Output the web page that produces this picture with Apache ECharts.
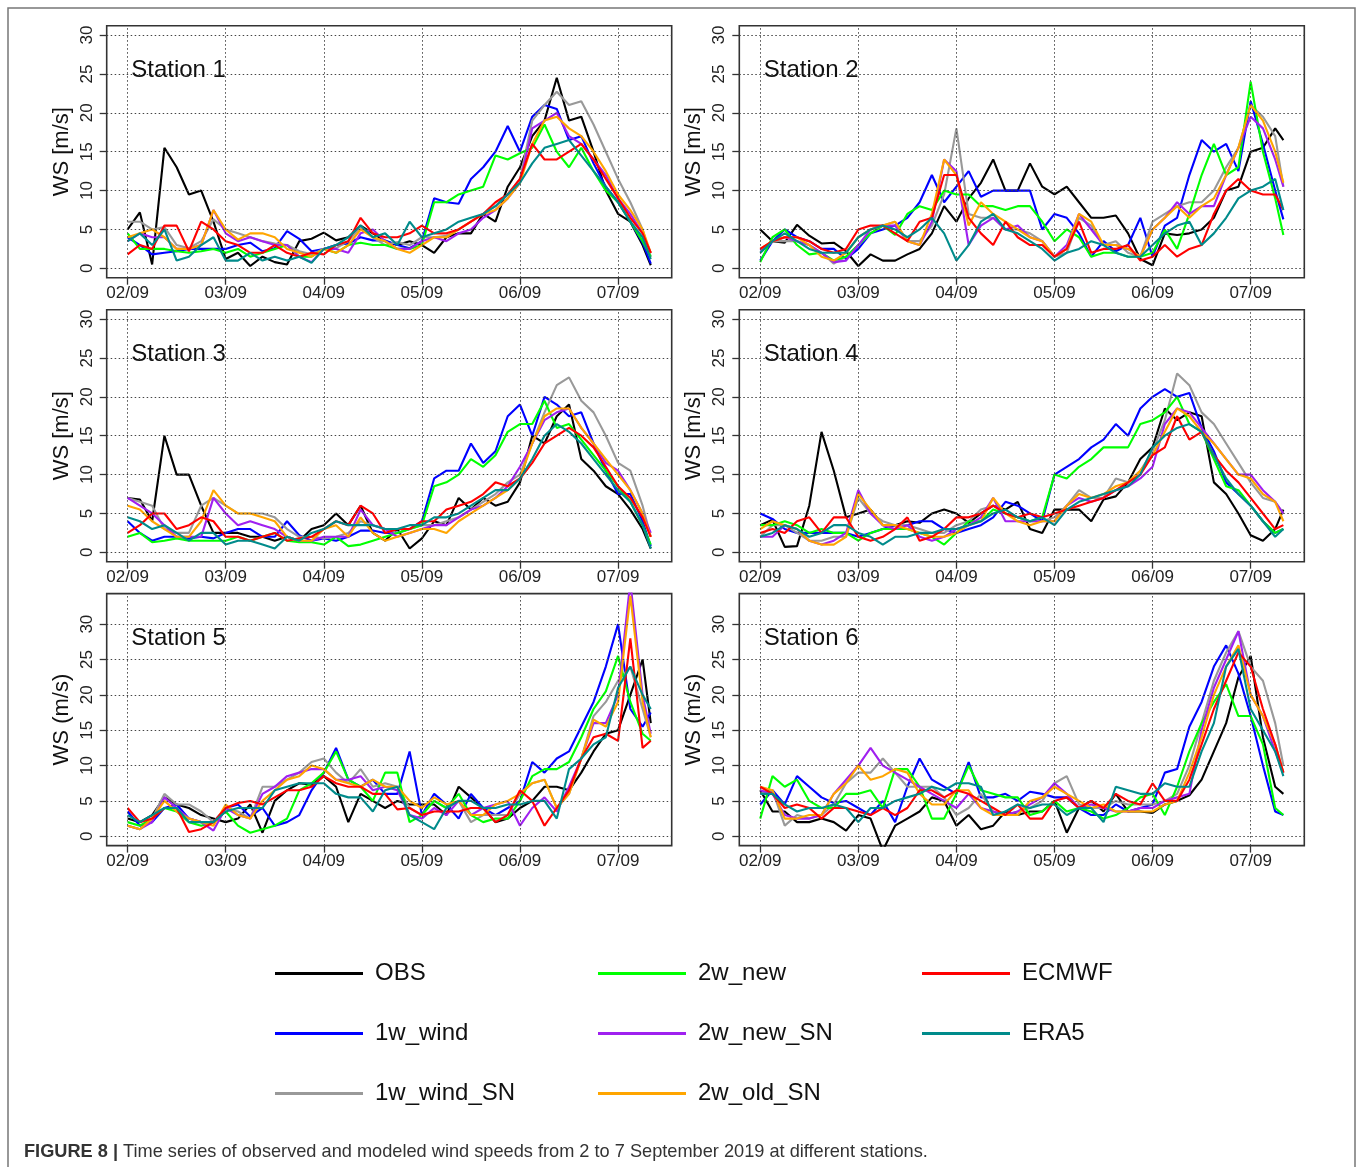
<!DOCTYPE html>
<html><head><meta charset="utf-8">
<script src="https://cdn.jsdelivr.net/npm/echarts@6/dist/echarts.min.js"></script>
<style>html,body{margin:0;padding:0;background:#fff;}#c{width:1358px;height:1167px;}</style>
</head><body><div id="c"></div>
<script>
// ---------- time axis (hours after 02/09 00:00) ----------
const hours = [0,3,6,9,12,15,18,21,24,27,30,33,36,39,42,45,48,51,54,57,60,63,66,69,72,75,78,81,84,87,90,93,96,99,102,105,108,111,114,117,120,123,126,128];
const xTickDays = [0,1,2,3,4,5];
const xTickLabels = ['02/09','03/09','04/09','05/09','06/09','07/09'];
const yTicks = [0,5,10,15,20,25,30];
const stationNames = ['Station 1','Station 2','Station 3','Station 4','Station 5','Station 6'];
const yTitles = ['WS [m/s]','WS [m/s]','WS [m/s]','WS [m/s]','WS (m/s)','WS (m/s)'];
const seriesNames = ['OBS','1w_wind','1w_wind_SN','2w_new','2w_new_SN','2w_old_SN','ECMWF','ERA5'];

// ---------- Station 1 ----------
const OBS_1   = [5,7.2,0.5,15.5,13,9.5,10,6,1.2,2,0.3,1.5,0.8,0.5,3.5,3.8,4.6,3.6,4,5.5,4.5,3.5,3,3.5,3,2,4,4.5,4.5,7,6,10.5,13,17,19,24.5,19,19.5,15,10,7,6,3,0.4];
const W1_1    = [4,3,1.8,2,2.2,2.5,2.5,2.5,2.5,3,3.3,2.2,2.6,4.8,3.8,2.2,2.5,3,3.2,4,3.6,3.6,3,2.6,3.5,9,8.5,8.3,11.5,13,15,18.3,15,19.5,21,20.5,16.5,17,13.5,10.5,8.5,6,3.3,0.6];
const W1SN_1  = [6,6,5,5.3,3,2.6,3.5,6.3,5,4.5,4,3.5,3.2,3,2.2,1.8,2.5,2.6,3.5,5.3,4,3,3.4,3,4,4,4.2,5,6,7,8,9.5,11.5,19,21,22.7,21,21.5,18.5,15,11.5,8.5,5,1.5];
const W2N_1   = [4.5,2.5,2.5,2.5,2.2,2,2.2,2.5,2,2.5,1.5,2,2.5,3,1.5,1.5,2.5,2,3,3.3,3,3,2.5,2.5,3,8.5,8.5,9.5,10,10.5,14.5,14,14.8,15.5,18.5,15,13,15.5,12.5,10,8.5,6,3.5,1.5];
const W2NSN_1 = [3.5,4.5,4,4,2.5,2.5,3,7.5,4.5,3.5,4,3.5,3,3,1.5,0.8,2.5,2.5,2,4.5,5,3.5,2.5,2.5,3.5,4,3.5,4.5,5,6.5,7.5,9,11,18,19,20,17,16,14,12,9,7,4.5,2];
const W2OSN_1 = [4,4.5,5,4,2.5,2.5,3,7.5,5,3.7,4.5,4.5,4,2.5,2,1.5,2.5,2,3,5,4,3.5,2.5,2,3,4,4,5,6,7,7.5,9,11,16,19,19.5,18,17,15,12.5,9.5,7.5,5,2];
const ECMWF_1 = [1.8,3,2.5,5.5,5.5,2.2,6,5,3.5,3,2,2,3,2,1.5,2,1.8,3,3.5,6.5,4.5,4,4,4.5,5.5,4.5,4.5,5,6,7,8.5,9.5,11.5,16,14,14,15,16,14,11.5,9,6.5,4.5,2];
const ERA5_1  = [3.5,4.5,3,5,1,1.5,3,4,1,1,2,1,1.5,1,1.5,0.7,2.5,3,4,5.5,4,4.5,3,6,4,4.5,5,6,6.5,7,8,9.5,11,13.5,15.5,16,16.5,14.5,12.5,10.5,8.5,6,4,1.2];

// ---------- Station 2 ----------
const OBS_2   = [5,3.5,3.3,5.6,4.2,3.2,3.3,2.2,0.3,1.8,1,1,1.8,2.5,4.5,8,6,9,11,14,10,10,13.5,10.5,9.5,10.5,8.5,6.5,6.5,6.8,4.5,1.2,0.4,4.5,4.3,4.5,5,6.5,10,10.5,15,15.5,18,16.5];
const W1_2    = [1,3.5,5,4,3.5,2.5,2.5,1.2,2.5,4.5,5,5.5,6.5,8.5,12,8.5,10.5,12.5,9.2,10,10,10,10,5,7,6.5,4.5,1.5,3.5,2.2,3,6.5,1.5,5.5,6.5,12,16.5,15,16,12.5,21.5,16,10,6.3];
const W1SN_2  = [2,3.5,3.5,3.5,3,2,0.6,1.5,3,4.5,5.5,6,3.5,3.5,5.5,9.5,18,7,6.5,6.5,5,5,4.5,3.5,1.5,2,6.5,5.5,3,3.5,2,1.5,6,7,8,8.5,8.5,10,13,15.5,21,19.5,17,10.5];
const W2N_2   = [0.8,4,5,3,1.8,2,1,1.5,3,4.5,5.5,4.3,7,8,7.5,10,9.5,9.5,8,8,7.5,8,8,6,3.5,5,4,1.5,2,2,1.5,1.5,2,5,2.5,7,12,16,12,13,24,15,9,4.3];
const W2NSN_2 = [2.3,3.5,4,3.5,3,2,0.8,1,3,5,5.5,5.5,3.5,3,6,14,12.5,3,5.5,6.5,5,5.5,4,3.5,1.5,3,7,5,3,3,2.5,1.5,5,6.5,8.5,7,8,8,12,15.5,19.5,18,14,10.5];
const W2OSN_2 = [2.5,3.5,4,4,3,1.5,1,2,4,5,5.5,6,3.5,3,7,14,12,5.5,8.5,7,6,5,4,3.5,1.5,2.5,7,6,3,3,2.5,1.5,5,6.5,8,6.5,8,9,12,15.5,21,19,15,11];
const ECMWF_2 = [2.5,3.5,4,4,3.5,2.5,2,2.5,5,5.5,5.5,4.5,3.5,6,6.5,12,12,6.5,4.5,3,6,4,3,3,1.5,2.5,6,2,2.5,2.5,3,1,1.5,3,1.5,2.5,3,7,10,11.5,10,9.5,9.5,7.5];
const ERA5_2  = [2,3.5,4.5,3.5,2.5,2,2,2,4,5,5.5,5,4,5,6.5,4.5,1,3,6,7,5,4.5,3.5,2.5,1,2,2.5,3.5,3,2,1.5,1.5,3,4.5,5.5,6,3,4.5,6.5,9,10,10.5,11.5,7.5];

// ---------- Station 3 ----------
const OBS_3   = [7,6.8,4,15,10,10,6,2.5,2.5,2.5,2,2,1.5,2,1.5,3,3.5,5,3.5,6,2.5,1.5,3,0.5,1.8,4,3.5,7,5.5,7,6,6.5,9,15,14,17.5,19,12,10.5,8.5,7.5,5.5,3,0.5];
const W1_3    = [4,2.5,1.5,2,2,1.8,2,1.8,2.5,3,3,2,2,4,2.2,1.5,1.8,1.5,2,2.8,2.8,2.5,2.5,3,4,9.5,10.5,10.5,14,11.5,13,17.5,19,15,20,19,17.5,18,14,10.5,7.5,7.5,4,0.8];
const W1SN_3  = [7,6.5,6,3,2.5,2.5,6,7,6,5,5,5,4.5,3,2,2,1.8,2,2.5,4,3.5,3,2.5,3,3.5,3.5,4,4.5,5.5,6.5,7.5,9,10,14,18,21.5,22.5,19.5,18,15,11.5,10.5,6,2];
const W2N_3   = [2,2.5,1.3,1.5,1.8,1.5,1.5,1.5,1.5,2,1.5,2,2.5,1.5,1.3,1.3,1,2,0.8,1,1.5,2,2.5,3,3.5,8.5,9,10,12,11,12.5,15.5,16.5,16.5,19.5,16,16.5,14.5,12.5,10.5,8.5,6.5,3.5,1];
const W2NSN_3 = [7,6,5,3.5,2,2,2,7,5,3.5,4,3.5,3,2,1.5,1.5,2,2,2,5.5,3.5,3,2,2.5,3,3.5,3.5,4.5,5.5,6,7,8.5,11,14,17,18,18.5,16,14,11.5,10.5,8,5,2.5];
const W2OSN_3 = [6,5.5,4,3,2,2,4,8,6,5,5,4.5,4,2,1.5,1.5,3,3.5,2,4.5,2.5,1.5,2,2.5,3,3,2.5,4,5,6,7,8,9.5,14,17.5,18.5,18.5,16,14,12,10,8,5,2];
const ECMWF_3 = [2.5,3.5,5,5,3,3.5,4.5,4,2,2,1.5,2,2.5,1.5,1.8,2,3,4,3.5,6,5,2.5,3,3,4,4,5.5,6,6.5,7.5,9,8.5,9.5,11.5,14,15,16,15,13.5,11,8.5,7,4.5,2];
const ERA5_3  = [4.5,4,3,3.5,2.5,1.5,2.5,2.5,1,1.5,1.5,1,0.5,2,1.5,2.5,3,4,3.5,3.5,3.5,3,3,3.5,3.5,4.5,4.5,5,6,7,8,8,9.5,12,15,16.5,15.5,14,12,10,8,6.5,3.5,0.5];

// ---------- Station 4 ----------
const OBS_4   = [3.5,4.2,0.7,0.8,6,15.5,10.5,4.5,5,5.5,3.5,3.5,4,3.8,5,5.5,5,3.8,5,6,5.5,6.5,3,2.5,5.5,5.5,5.5,4,6.8,7.2,9,12,13.5,18.5,17,18,17.5,9,7.5,5,2.2,1.5,3,5.5];
const W1_4    = [5,4.3,3,2.5,2.5,2.5,2.5,2.5,2,2.5,3,3.5,3.5,4,4,3,2.5,3,3.5,4.5,6.5,6,5,4,10,11,12,13.5,14.5,16.5,15,18.5,20,21,20,20.5,16,13,9,7.5,6,4,2.5,3];
const W1SN_4  = [2,3.5,3.5,2.5,1.5,1.5,2,2,7,5,4,3.5,3.5,3,2.5,2.5,3.5,4,5.5,6,5,4.5,4,4,4.5,6,8,7,7,9.5,9,10.5,13,17,23,21.5,18,16.5,14,11.5,9,7,6.5,5];
const W2N_4   = [3.5,3.5,4,3.5,2.5,3,2.5,2.5,1.5,2.5,3,3,3,2.5,2,1,2.5,4,4,5.5,5,4.5,4,4.5,10,9.5,11,12,13.5,13.5,13.5,16.5,17,18,20,16.5,15.5,12,8.5,8,6,4,2.5,3];
const W2NSN_4 = [2,2,3.5,3,1.5,1,1.5,2.5,8,5,3.5,3,3.5,2,1.5,2,3,3.5,4.5,7,4,4,4,4,4,6,7,6.5,7,8,8.5,9.5,11,16.5,18.5,18,16,14,12,10,10,8,6.5,5];
const W2OSN_4 = [3,4,3.5,3,1.5,1,1,2,7.5,5.5,3.5,3.5,3,2.5,2,2,2.5,3.5,4,7,5,4,3.5,4,4,6,7.5,7,7.5,8.5,9,10.5,12.5,15.5,18.5,17.5,15.5,14,12,10,9.5,7.5,6.5,4];
const ECMWF_4 = [2.5,3,2.5,4,4.5,2.5,4.5,4.5,2,1.5,2,3,4.5,1.5,2,3,4.5,4.5,5,6,5,4.5,5,4.5,5,5.5,6,6.5,7,8,9,10,12.5,13.5,17.5,14.5,15.5,12.5,10.5,9,7,5,3,3.5];
const ERA5_4  = [2,2.5,3.5,3,2,2.5,3.5,3.5,2.5,2,1,2,2,2.5,2.5,3,3,3.5,4,5,5.5,4.5,4,4.5,3.5,5.5,6.5,7,7.5,8,8.5,10,13.5,15,16,16.5,15.5,12.5,9.5,7.5,6,4,2,3];

// ---------- Station 5 ----------
const OBS_5   = [2.5,2,3,5.5,4.5,4,3,2.5,2,2.5,4.5,0.5,5,6.5,7.5,7.3,8.5,7,2,6,5,4,5,4.5,4.5,4.5,3,7,5.5,4,2,2.5,4,5,7,7,6.5,9,12,14.5,15,20,25,16];
const W1_5    = [3.5,1.5,2,4,4.5,2.5,2,2,4,4.5,2.8,4,1.5,2,3,6.5,9,12.5,8,7,8,6,6,12,3,6,4.5,2.5,6,4,3,4,5,10.5,9,11,12,15.5,19,24,30,18,15.5,17.5];
const W1SN_5  = [1.5,1,2.5,6,4.5,4.5,3.5,2,4,3.5,2.5,7,7,8,9,10.5,11,9,7.5,9.5,7,7.5,7,4,3,5,4,5,2,3,3,3,6,7.5,8,4,6,11,17,19,22,24,18,14];
const W2N_5   = [2,1.5,2.5,4,3.5,2,1.5,2,3.5,1.5,0.5,1,1.5,2.5,6.5,7.5,9,12,8,7,5,9,9,2,3,5,4,6,3,2,2.5,2.5,5,8.5,9.5,9.5,10.5,14,18,20.5,25.5,19,14.5,13.5];
const W2NSN_5 = [1.5,1,2,5.5,4,2.5,2,0.8,4,3,2.5,6,7,8.5,9,9.5,9.5,8,8,8.5,6.5,7,6.5,3,2.5,4,3,5,3,4,4.5,5,1.5,4,5.5,3.5,7,11,16,16,20,36,20,14.5];
const W2OSN_5 = [1.5,1,2.5,5,3.5,2.5,2,1.5,4.5,3,2.5,5,6.5,8,8.5,10,9.5,8,7.5,7,8,7,7,5,4,5.5,4.5,5,3,3,4.5,5,6,7.5,8,4,6,11,16.5,15.5,19,34,19,14];
const ECMWF_5 = [4,2,2.5,4,4,0.6,1,2,4,4.7,5,4.5,5.5,6.5,6.5,7,8.5,7.5,7,7,6,6,3.8,4,3,3.5,3.5,3.5,4,4,2,3,6.5,5,1.5,4,6.5,11,14,14.5,13.5,28,12.5,13.5];
const ERA5_5  = [3,2,3,4,4,2,2,2,3.5,4,4,4,6.5,7,7.5,7.5,7.5,6,5.5,5.5,3.5,6.5,7,3,2,1,4,5,5,4,4,4.5,4.5,5,5,2.5,9.5,11,13,14,21,24,20,18];

// ---------- Station 6 ----------
const OBS_6   = [6.5,3.5,3.5,2,2,2.5,2,0.8,3,2.5,-2,1.5,2.5,3.5,5.5,5,1.5,3,1,1.5,3.5,3,3.5,3.5,5,0.5,4,5,3.5,6,3.5,3.5,3.3,4.5,5,5.8,8,12,16,22.5,25.5,14,7,6];
const W1_6    = [4.5,6.5,4.5,8.5,7,5.5,4.7,5,4,3,5,2,7,11,8,7,6,10.5,5.5,5.5,6,5,6.3,6,5.5,5.5,4,3,3,4.5,3.5,4,4.5,9,9.5,15.5,19,24,27,23,17,10,3.5,3];
const W1SN_6  = [6,6.5,1.5,3,2.5,3,4.5,7.5,9,9,11,9,7,7,7,5.5,3,4,6,3.5,3,3.5,4,5,7.5,8.5,4.5,4,4,5,4.5,4.5,4.5,5,6,10,16,22,26,29,24,22,16,10];
const W2N_6   = [2.5,8.5,7,8,5,4,4,6,6,6.5,4,9.5,9.5,7,2.5,2.5,6,10,6.5,6,5.5,5.5,3,3.5,5,3.5,4,3.5,2.5,3,4,5.5,6,3,7,12,16,19,21.5,17,17,13,4,3];
const W2NSN_6 = [6.5,6,3,2.5,2.5,3,6,8,10,12.5,10,9,8,7,6,5,4,6,4,3.5,3,3.5,4.5,5.5,7.5,6,4,4.5,4,3.5,3.5,4,4,5,5.5,6,15,21,25,29,20,17,12,9];
const W2OSN_6 = [7,6.5,2.5,2.5,3,3,6,7.5,10,8,8.5,9.5,9,6,4.5,4.5,6.5,6.5,4,3,3,3,5,5.5,7,6,5,4,4.5,3.5,3.5,3.5,3.5,4.5,5,9,14,20,24,27,20,17,13,9];
const ECMWF_6 = [7,6,4,4.5,4,2.5,4,4,3.5,3,4,3,4,6.5,6.5,5.5,6.5,6,5,4,3,4.5,2.5,2.5,5,5.5,4,5,4,6,5,4.5,7.5,5,5,8,13,18,22,26,24,18,13,9];
const ERA5_6  = [6,6,4.5,3.5,4,4,4.5,4,2,4,4,5,5.5,6,7,6.5,7.5,7.5,7,3,3.5,4.5,4,4.5,4.5,3,4,4,2,7,6.5,6,6,7.5,7,7,12,16,24,26.5,18,15,12,8.5];

const stationData = [
  [OBS_1,W1_1,W1SN_1,W2N_1,W2NSN_1,W2OSN_1,ECMWF_1,ERA5_1],
  [OBS_2,W1_2,W1SN_2,W2N_2,W2NSN_2,W2OSN_2,ECMWF_2,ERA5_2],
  [OBS_3,W1_3,W1SN_3,W2N_3,W2NSN_3,W2OSN_3,ECMWF_3,ERA5_3],
  [OBS_4,W1_4,W1SN_4,W2N_4,W2NSN_4,W2OSN_4,ECMWF_4,ERA5_4],
  [OBS_5,W1_5,W1SN_5,W2N_5,W2NSN_5,W2OSN_5,ECMWF_5,ERA5_5],
  [OBS_6,W1_6,W1SN_6,W2N_6,W2NSN_6,W2OSN_6,ECMWF_6,ERA5_6]
];

// ---------- styling / layout ----------
const seriesColors = ['#000000','#0000FF','#999999','#00FF00','#A020F0','#FFA500','#FF0000','#008B8B'];
const FONT = '"Liberation Sans", Arial, sans-serif';
const gridLeft = [106.7, 739.3];
const gridTop = [25.7, 309.7, 593.6];
const GW = 565, GH = 252;
const xMin = -0.2133, xMax = 5.5467;
const yRanges = [[-1.2,31.2],[-1.2,31.2],[-1.2,31.2],[-1.2,31.2],[-1.32,34.32],[-1.32,34.32]];

const grids = [], xAxes = [], yAxes = [], series = [], graphics = [];
for (let k = 0; k < 6; k++) {
  const col = k % 2, row = Math.floor(k / 2);
  grids.push({left: gridLeft[col], top: gridTop[row], width: GW, height: GH,
    show: true, borderColor: '#333', borderWidth: 1.6, backgroundColor: 'transparent', containLabel: false});
  xAxes.push({type: 'value', gridIndex: k, min: xMin, max: xMax,
    axisLine: {show: false, onZero: false},
    axisTick: {show: true, length: 7, customValues: xTickDays, lineStyle: {color: '#333', width: 1.3}},
    axisLabel: {show: true, customValues: xTickDays, formatter: v => xTickLabels[Math.round(v)],
      fontSize: 17, color: '#222', fontFamily: FONT, margin: 7},
    splitLine: {show: false}});
  yAxes.push({type: 'value', gridIndex: k, min: yRanges[k][0], max: yRanges[k][1],
    name: yTitles[k], nameLocation: 'middle', nameRotate: 90, nameGap: 34,
    nameTextStyle: {fontSize: 22, color: '#111', fontFamily: FONT},
    axisLine: {show: false, onZero: false},
    axisTick: {show: true, length: 7, customValues: yTicks, lineStyle: {color: '#333', width: 1.3}},
    axisLabel: {show: true, customValues: yTicks, rotate: 90, fontSize: 17, color: '#222', fontFamily: FONT, margin: 11},
    splitLine: {show: false}});
  stationData[k].forEach((arr, j) => {
    const s = {type: 'line', name: seriesNames[j], xAxisIndex: k, yAxisIndex: k,
      data: hours.map((h, i) => [h / 24, arr[i]]),
      showSymbol: false, symbol: 'none', clip: true, silent: true,
      lineStyle: {width: 2.1, color: seriesColors[j]}, itemStyle: {color: seriesColors[j]}};
    if (j === 0) {
      s.markLine = {silent: true, symbol: ['none','none'], label: {show: false},
        lineStyle: {color: '#444', type: [1.5, 2.5], width: 1},
        emphasis: {disabled: true},
        data: xTickDays.map(v => ({xAxis: v})).concat(yTicks.map(v => ({yAxis: v})))};
    }
    series.push(s);
  });
  graphics.push({type: 'text', z: 50, style: {text: stationNames[k], x: gridLeft[col] + 24.5, y: gridTop[row] + 45,
    font: '24px ' + FONT, fill: '#111', verticalAlign: 'middle'}});
}

// figure frame + caption
graphics.push({type: 'rect', z: 0, shape: {x: 8, y: 8, width: 1347, height: 1220},
  style: {fill: null, stroke: '#777', lineWidth: 1.5}});
graphics.push({type: 'text', z: 50, style: {x: 24, y: 1152, verticalAlign: 'middle',
  text: '{b|FIGURE 8 |} Time series of observed and modeled wind speeds from 2 to 7 September 2019 at different stations.',
  font: '18.2px ' + FONT, fill: '#333',
  rich: {b: {fontWeight: 'bold', fontSize: 18.2, fontFamily: FONT, fill: '#333'}}}});

const legendCols = [['OBS','1w_wind','1w_wind_SN'],['2w_new','2w_new_SN','2w_old_SN'],['ECMWF','ERA5']];
const legendX = [275, 598, 922];
const legends = legendCols.map((names, c) => ({
  data: names, orient: 'vertical', left: legendX[c], top: 961.5, padding: 0,
  itemWidth: 88, itemHeight: 3, itemGap: 36, icon: 'rect', selectedMode: false,
  textStyle: {fontSize: 24, color: '#111', fontFamily: FONT, padding: [0, 0, 0, 7]}
}));

const chart = echarts.init(document.getElementById('c'), null, {renderer: 'canvas'});
chart.setOption({
  animation: false,
  backgroundColor: '#ffffff',
  textStyle: {fontFamily: FONT},
  grid: grids, xAxis: xAxes, yAxis: yAxes, series: series,
  legend: legends, graphic: graphics
});
</script></body></html>
